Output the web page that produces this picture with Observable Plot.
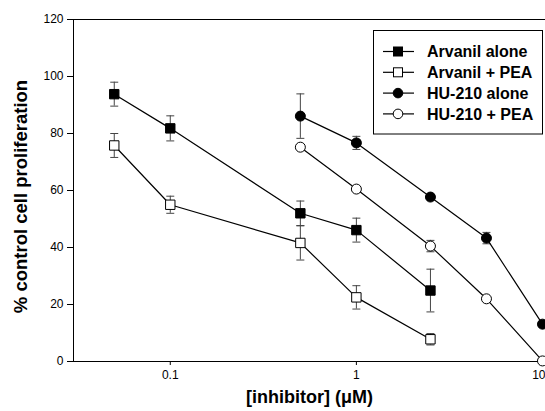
<!DOCTYPE html>
<html>
<head>
<meta charset="utf-8">
<script src="https://cdn.jsdelivr.net/npm/d3@7"></script>
<script src="https://cdn.jsdelivr.net/npm/@observablehq/plot@0.6"></script>
<style>
  html, body { margin: 0; padding: 0; background: #fff; }
  #chart svg { display: block; font-family: "Liberation Sans", Arial, sans-serif; }
</style>
</head>
<body>
<div id="chart"></div>
<script>
// ---- data ----
const concArvanil = [0.05, 0.1, 0.5, 1, 2.5];
const arvanilAlone = [93.8, 81.8, 52, 46.1, 24.9];
const arvanilAloneErr = [4.2, 4.4, 4.3, 4.2, 7.5];
const arvanilPEA = [75.8, 55, 41.6, 22.5, 7.8];
const arvanilPEAErr = [4.2, 3, 6, 4.1, 2];

const concHU = [0.5, 1, 2.5, 5, 10];
const huAlone = [86.1, 76.7, 57.7, 43.3, 13.1];
const huAloneErr = [7.8, 2.3, 1, 2, 1];
const huPEA = [75.2, 60.5, 40.5, 22, 0.2];
const huPEAErr = [0.8, 0.8, 2, 0.6, 0.6];

const seriesNames = ["Arvanil alone", "Arvanil + PEA", "HU-210 alone", "HU-210 + PEA"];
const seriesSymbol = ["square", "square", "circle", "circle"];
const seriesFill = ["black", "white", "black", "white"];

const xTicks = [0.1, 1, 10];
const xTickLabels = ["0.1", "1", "10"];
const yTicks = [0, 20, 40, 60, 80, 100, 120];
const xLabel = "[inhibitor] (\u03BCM)";
const yLabel = "% control cell proliferation";

// ---- build table ----
const series = [
  {name: seriesNames[0], x: concArvanil, y: arvanilAlone, e: arvanilAloneErr},
  {name: seriesNames[1], x: concArvanil, y: arvanilPEA, e: arvanilPEAErr},
  {name: seriesNames[2], x: concHU, y: huAlone, e: huAloneErr},
  {name: seriesNames[3], x: concHU, y: huPEA, e: huPEAErr}
];
const rows = series.flatMap((s, i) => s.x.map((x, j) => ({
  series: s.name, idx: i, x, y: s.y[j], lo: s.y[j] - s.e[j], hi: s.y[j] + s.e[j]
})));

const capSymbol = {
  draw(ctx, size) {
    const w = Math.sqrt(size) / 2;
    ctx.moveTo(-w, 0); ctx.lineTo(w, 0);
  }
};

const lastTick = xTicks[xTicks.length - 1];
const W = 545, H = 411;
const plot = Plot.plot({
  width: W, height: H,
  marginLeft: 73, marginRight: 0, marginTop: 19, marginBottom: 50,
  style: {fontFamily: "'Liberation Sans', Arial, sans-serif", fontSize: "12px", color: "black", background: "white"},
  x: {type: "log", domain: [0.0302, 10.38]},
  y: {domain: [0, 120]},
  marks: [
    Plot.ruleY([120], {stroke: "black", strokeWidth: 1}),
    Plot.ruleY([0], {stroke: "black", strokeWidth: 1}),
    Plot.ruleX([0.0302], {stroke: "black", strokeWidth: 1}),
    Plot.axisX({ticks: xTicks, tickFormat: d => d === lastTick ? "" : xTickLabels[xTicks.indexOf(d)], tickSize: 4, tickPadding: 5, label: null, fontSize: 12}),
    // last tick label kept inside the picture (right-aligned at the edge)
    Plot.text([lastTick], {x: d => d, text: d => xTickLabels[xTicks.indexOf(d)], frameAnchor: "bottom", dy: 14, dx: 3, textAnchor: "end", lineAnchor: "middle", fontSize: 12, fill: "black"}),
    Plot.axisY({ticks: yTicks, tickSize: 6, tickPadding: 4, label: null, fontSize: 12}),
    Plot.text([xLabel], {frameAnchor: "bottom", dy: 36, textAnchor: "middle", lineAnchor: "middle", fontSize: 18, fontWeight: "bold", fill: "black"}),
    Plot.text([yLabel], {frameAnchor: "left", rotate: -90, dx: -52, dy: 6, textAnchor: "middle", lineAnchor: "middle", fontSize: 18.5, fontWeight: "bold", fill: "black"}),
    // error bars
    Plot.ruleX(rows, {x: "x", y1: "lo", y2: "hi", stroke: "#444", strokeWidth: 1}),
    Plot.dot(rows, {x: "x", y: "lo", symbol: capSymbol, r: 4.5, stroke: "#444", strokeWidth: 1}),
    Plot.dot(rows, {x: "x", y: "hi", symbol: capSymbol, r: 4.5, stroke: "#444", strokeWidth: 1}),
    // lines
    Plot.line(rows, {x: "x", y: "y", z: "series", stroke: "black", strokeWidth: 1.2}),
    // markers
    Plot.dot(rows.filter(d => seriesSymbol[d.idx] === "square"), {x: "x", y: "y", symbol: "square", r: 5.3, fill: d => seriesFill[d.idx], stroke: "black", strokeWidth: 1}),
    Plot.dot(rows.filter(d => seriesSymbol[d.idx] === "circle"), {x: "x", y: "y", symbol: "circle", r: 5, fill: d => seriesFill[d.idx], stroke: "black", strokeWidth: 1})
  ]
});
document.getElementById("chart").appendChild(plot);

// ---- legend inside the plot (drawn into the same svg) ----
const svg = d3.select(plot);
const lg = svg.append("g").attr("class", "legend");
lg.append("rect").attr("x", 373.5).attr("y", 30.5).attr("width", 169).attr("height", 103.5)
  .attr("fill", "white").attr("stroke", "black").attr("stroke-width", 1);
seriesNames.forEach((name, i) => {
  const cy = 51.5 + i * 20.8;
  const g = lg.append("g").attr("transform", `translate(0,${cy})`);
  g.append("line").attr("x1", 383).attr("x2", 414).attr("y1", 0).attr("y2", 0).attr("stroke", "black").attr("stroke-width", 1.2);
  if (seriesSymbol[i] === "square") {
    g.append("rect").attr("x", 393.5).attr("y", -4.5).attr("width", 9).attr("height", 9)
      .attr("fill", seriesFill[i]).attr("stroke", "black");
  } else {
    g.append("circle").attr("cx", 398).attr("cy", 0).attr("r", 4.8)
      .attr("fill", seriesFill[i]).attr("stroke", "black");
  }
  g.append("text").attr("x", 427).attr("y", 0).attr("dy", "0.36em")
    .attr("text-anchor", "start")
    .attr("font-size", 16).attr("font-weight", "bold").attr("fill", "black").text(name);
});
</script>
</body>
</html>
